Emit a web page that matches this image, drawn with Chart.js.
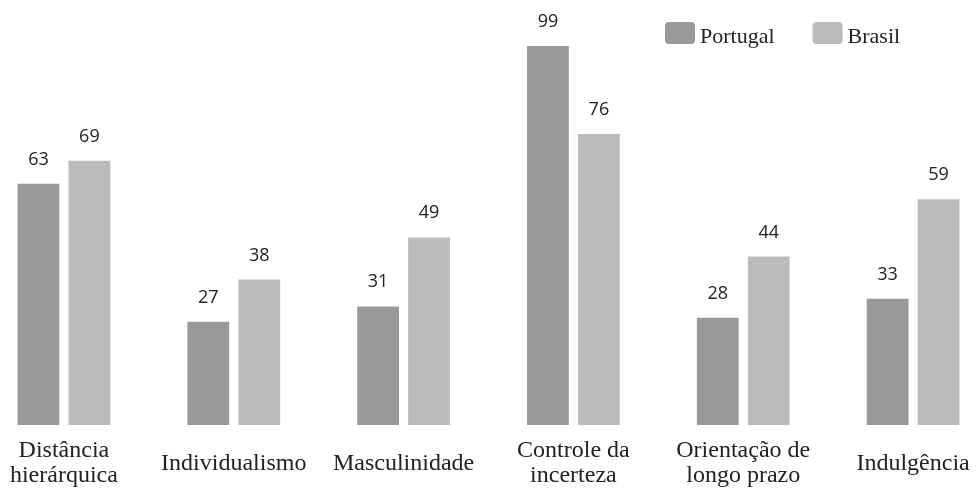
<!DOCTYPE html>
<html>
<head>
<meta charset="utf-8">
<script src="https://cdn.jsdelivr.net/npm/chart.js@4/dist/chart.umd.min.js"></script>
<style>
  html, body { margin: 0; padding: 0; background: #ffffff; overflow: hidden; }
  #wrap { position: absolute; left: -21px; top: 0; width: 1019px; height: 527px; }
</style>
</head>
<body>
<div id="wrap"><canvas id="c" width="1019" height="527"></canvas></div>
<script>
// Hofstede cultural dimensions: Portugal vs Brasil
const categories = [
  ['Distância', 'hierárquica'],
  'Individualismo',
  'Masculinidade',
  ['Controle da', 'incerteza'],
  ['Orientação de', 'longo prazo'],
  'Indulgência'
];
const seriesNames = ['Portugal', 'Brasil'];
const portugal = [63, 27, 31, 99, 28, 33];
const brasil = [69, 38, 49, 76, 44, 59];
const colors = ['#999999', '#bbbbbb'];

const serif = "'Liberation Serif', 'Times New Roman', serif";
const sans = "'Open Sans', 'DejaVu Sans', sans-serif";

// Numbers printed above each bar
const valueLabels = {
  id: 'valueLabels',
  afterDatasetsDraw(chart) {
    const ctx = chart.ctx;
    ctx.save();
    ctx.font = '18px ' + sans;
    ctx.fillStyle = '#222222';
    ctx.textAlign = 'center';
    ctx.textBaseline = 'alphabetic';
    chart.data.datasets.forEach((ds, i) => {
      chart.getDatasetMeta(i).data.forEach((bar, j) => {
        ctx.fillText(String(ds.data[j]), bar.x, bar.y - 19);
      });
    });
    ctx.restore();
  }
};

// Legend in the upper right, drawn from the datasets
const cornerLegend = {
  id: 'cornerLegend',
  afterDraw(chart) {
    const ctx = chart.ctx;
    ctx.save();
    ctx.font = '22px ' + serif;
    ctx.textBaseline = 'alphabetic';
    ctx.textAlign = 'left';
    let x = 686;
    const boxTop = 22, boxW = 30, boxH = 22;
    chart.data.datasets.forEach(ds => {
      ctx.fillStyle = ds.backgroundColor;
      ctx.beginPath();
      ctx.roundRect(x, boxTop, boxW, boxH, 4);
      ctx.fill();
      ctx.fillStyle = '#222222';
      ctx.fillText(ds.label, x + boxW + 5, 43);
      x += boxW + 5 + ctx.measureText(ds.label).width + 38;
    });
    ctx.restore();
  }
};

new Chart(document.getElementById('c'), {
  type: 'bar',
  data: {
    labels: categories,
    datasets: [
      { label: seriesNames[0], data: portugal, backgroundColor: colors[0] },
      { label: seriesNames[1], data: brasil, backgroundColor: colors[1] }
    ]
  },
  options: {
    responsive: false,
    animation: false,
    devicePixelRatio: 1,
    layout: { padding: { top: 46, left: 0, right: 0, bottom: 0 } },
    categoryPercentage: 0.6,
    barPercentage: 0.82,
    plugins: {
      legend: { display: false },
      tooltip: { enabled: false }
    },
    scales: {
      x: {
        grid: { display: false, drawTicks: false },
        border: { display: false },
        ticks: {
          color: '#222222',
          font: { family: serif, size: 24, lineHeight: 1.04 },
          padding: 26,
          maxRotation: 0,
          autoSkip: false,
          crossAlign: 'center'
        }
      },
      y: {
        display: false,
        min: 0,
        max: 99
      }
    }
  },
  plugins: [valueLabels, cornerLegend]
});
</script>
</body>
</html>
